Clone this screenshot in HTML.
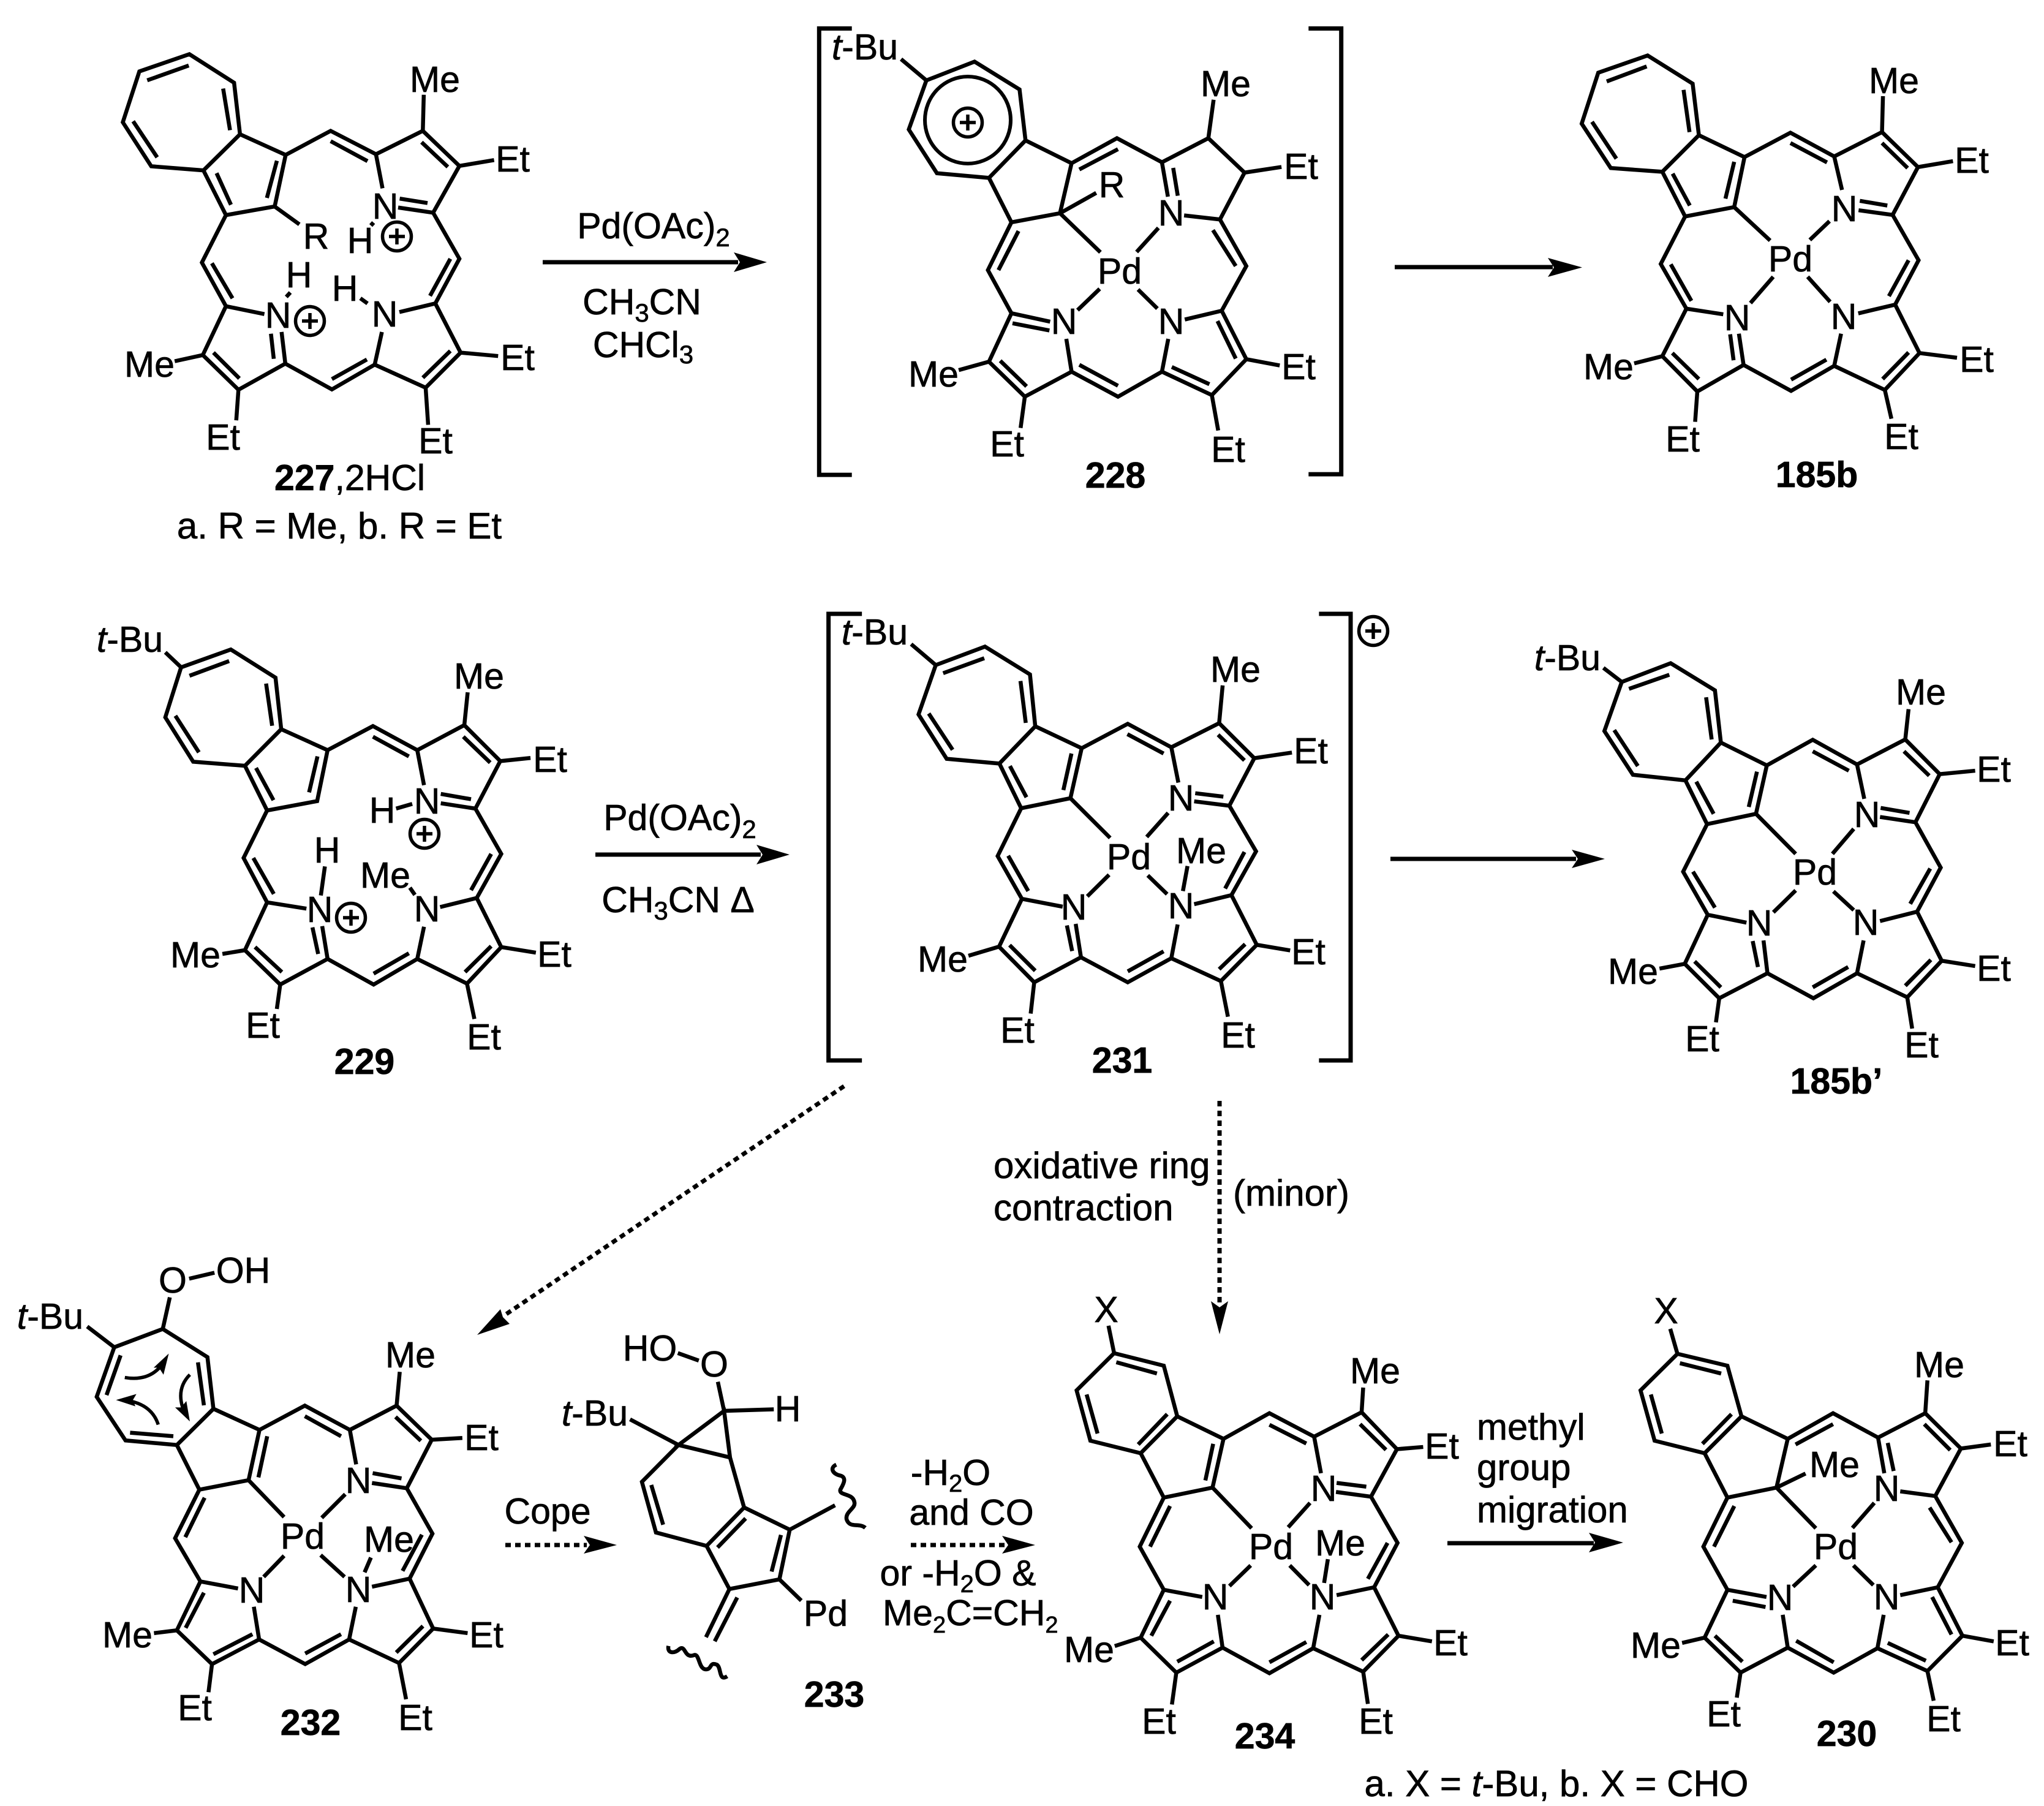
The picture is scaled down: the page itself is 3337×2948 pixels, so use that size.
<!DOCTYPE html>
<html><head><meta charset="utf-8"><style>
html,body{margin:0;padding:0;background:#fff}
svg{display:block}
text{font-family:"Liberation Sans",Arial,sans-serif;font-size:59px;text-anchor:middle;fill:#000;stroke:#000;stroke-width:.7}
.b{font-weight:bold}
.s{text-anchor:start}
.l{font-size:60px}
path,line{fill:none;stroke:#000;stroke-width:6.5;stroke-miterlimit:4;vector-effect:non-scaling-stroke}
.a{stroke-width:7}
.d{stroke-width:7;stroke-dasharray:9 7}
polygon{fill:#000;stroke:none}
</style></head><body>
<svg xmlns="http://www.w3.org/2000/svg" width="3337" height="2948" viewBox="0 0 3337 2948">
<defs><g id="p"><circle r="23.5" fill="none" stroke="#000" stroke-width="5.5"/><line x1="-13" x2="13" y1="0" y2="0" style="stroke-width:5.5"/><line y1="-13" y2="13" x1="0" x2="0" style="stroke-width:5.5"/></g></defs>
<rect width="3337" height="2948" fill="#fff"/>

<!-- 227 -->
<g transform="translate(100,20) scale(.5102,.5612)"><path d="M410 122 250 172 197 320 288 448 455 460 572 355 553 205Z M408 155 275 198 M230 317 307 422 M518 222 540 343 M572 355 718 415 683 565 527 590 455 460 M690 432 658 540 M497 468 543 560 M718 415 862 345 1007 413 M862 375 980 433 M1007 413 1157 345 1274 447 1190 583 1078 568 M1007 413 1028 512 M1153 378 1237 450 M1172 555 1083 542 M1157 345 1160 240 M1274 447 1385 430 M990 612 1000 620 M1190 583 1274 717 1197 847 M1245 717 1180 825 M1197 847 1278 990 1166 1092 1003 1025 1026 930 M1197 847 1082 872 M1245 985 1157 1063 M1278 990 1398 1000 M1166 1092 1174 1200 M957 832 980 847 M1003 1025 866 1097 717 1022 705 930 M978 1010 866 1067 M680 1008 671 935 M717 1022 567 1098 453 997 527 855 650 878 M570 1065 487 990 M453 997 363 1015 M567 1098 560 1187 M720 828 733 815 M527 855 450 728 527 590 M548 832 482 730 M683 565 762 617"/></g>
<text x="710" y="150">Me</text><text x="837" y="280">Et</text><text x="629" y="357">N</text><text x="588" y="413">H</text><use href="#p" x="648" y="386"/><text x="516" y="406">R</text><text x="488" y="469">H</text><text x="563" y="491">H</text><text x="454" y="535">N</text><use href="#p" x="506" y="524"/><text x="628" y="533">N</text><text x="244" y="615">Me</text><text x="845" y="604">Et</text><text x="364" y="734">Et</text><text x="711" y="740">Et</text>
<text x="571" y="800"><tspan class="b">227</tspan>,2HCl</text><text class="l" x="554" y="879">a. R = Me, b. R = Et</text>

<!-- arrow 1 -->
<path class="a" d="M886 428H1205"/><polygon points="1252,428 1198,412 1208,428 1198,444"/>
<text x="1067" y="389">Pd(OAc)<tspan font-size="42" dy="13">2</tspan></text>
<text x="1048" y="513">CH<tspan font-size="42" dy="12">3</tspan><tspan dy="-12">CN</tspan></text>
<text x="1050" y="583">CHCl<tspan font-size="42" dy="10">3</tspan></text>

<!-- 228 -->
<g transform="translate(1300,20) scale(.574,.5102)"><path class="a" d="M158 52H65V1480H158 M1457 52H1550V1478H1457"/><path d="M298 150 370 218 M370 218 507 158 635 247 652 410 548 530 400 515 320 375Z M652 410 783 483 750 643 612 672 548 530 M783 483 912 403 1040 480 M805 503 915 438 M1040 480 1172 403 1275 513 1205 663 1103 650 M1040 480 1057 590 M1072 498 1085 587 M1172 403 1187 280 M1275 513 1380 495 M750 643 853 578 M750 643 865 768 M1030 690 968 767 M612 672 545 825 612 963 722 990 M632 700 575 825 M615 995 720 1018 M863 885 800 953 M972 887 1027 948 M612 963 548 1118 650 1230 783 1150 768 1045 M580 1115 655 1197 M548 1118 462 1145 M650 1230 638 1330 M783 1150 915 1230 1040 1150 1058 1045 M805 1128 915 1195 M1040 1150 1182 1225 1280 1110 1210 955 1105 983 M1068 1135 1175 1190 M1250 1108 1198 988 M1280 1110 1375 1130 M1182 1225 1200 1338 M1205 663 1280 812 1210 955 M1185 697 1250 812"/></g>
<ellipse cx="1580" cy="196" rx="70" ry="71" fill="none" stroke="#000" stroke-width="6"/><use href="#p" x="1580" y="200"/>
<text x="1412" y="97"><tspan font-style="italic">t</tspan>-Bu</text><text x="2001" y="157">Me</text><text x="2124" y="292">Et</text><text x="1815" y="322">R</text><text x="1912" y="368">N</text><text x="1828" y="463">Pd</text><text x="1737" y="545">N</text><text x="1912" y="545">N</text><text x="1524" y="631">Me</text><text x="2120" y="619">Et</text><text x="1644" y="745">Et</text><text x="2005" y="754">Et</text><text class="b" x="1821" y="796">228</text>

<!-- arrow 2 -->
<path class="a" d="M2277 436H2535"/><polygon points="2583,436.5 2527,421 2537,436.5 2527,452"/>

<!-- 185b -->
<g transform="translate(2520,60) scale(.5102)"><path d="M333 60 175 115 122 278 215 420 380 432 497 315 477 150Z M330 95 202 143 M155 272 233 390 M448 170 467 305 M497 315 643 385 610 545 453 575 380 432 M610 400 582 518 M413 438 468 540 M643 385 790 307 930 383 M790 340 907 402 M930 383 1083 305 1198 417 1117 570 1008 555 M1083 340 1165 420 M1100 540 1012 525 M930 383 955 490 M1083 305 1086 190 M1198 417 1310 398 M610 545 725 652 M915 590 852 650 M1117 570 1200 715 1125 857 1007 885 M1168 715 1105 830 M1125 857 1203 1012 1092 1130 930 1053 952 950 M1168 1010 1085 1095 M1203 1012 1323 1027 M1092 1130 1113 1222 M930 1053 792 1133 640 1050 625 950 M905 1033 792 1097 M608 1035 597 952 M640 1050 492 1135 380 1022 457 870 575 888 M497 1095 412 1012 M453 575 375 727 457 870 M473 845 407 728 M380 1022 290 1045 M492 1135 485 1232 M735 768 662 852 M845 768 917 848"/></g>
<text x="3092" y="152">Me</text><text x="3219" y="282">Et</text><text x="3011" y="361">N</text><text x="2923" y="443">Pd</text><text x="2836" y="539">N</text><text x="3010" y="537">N</text><text x="3227" y="607">Et</text><text x="2626" y="619">Me</text><text x="2747" y="737">Et</text><text x="3104" y="733">Et</text><text class="b" x="2966" y="795">185b</text>

<!-- 229 -->
<g transform="translate(130,1000) scale(.5485,.5102)"><path d="M255 127 302 175 M302 175 450 118 583 208 600 373 492 490 338 477 255 335Z M445 155 327 202 M285 330 355 447 M555 227 573 362 M600 373 738 440 707 603 558 633 492 490 M708 460 683 575 M525 497 577 600 M738 440 873 363 1005 440 M873 397 980 460 M1005 440 1145 360 1252 475 1178 627 1075 610 M1142 397 1222 480 M1165 597 1075 580 M1005 440 1025 552 M1145 360 1155 255 M1252 475 1342 465 M942 627 990 612 M1178 627 1255 772 1182 913 1073 942 M1225 772 1165 888 M1182 913 1255 1070 1153 1187 1005 1108 1025 1005 M1225 1067 1147 1150 M1255 1070 1358 1088 M1153 1187 1175 1300 M983 880 998 903 M1005 1108 875 1190 738 1108 722 1003 M980 1090 875 1155 M710 1092 693 1007 M738 1108 597 1190 492 1080 558 927 675 947 M602 1150 522 1070 M492 1080 425 1092 M597 1190 587 1268 M558 633 488 785 558 927 M578 900 517 785 M718 905 730 812"/></g>
<text x="212" y="1064"><tspan font-style="italic">t</tspan>-Bu</text><text x="782" y="1124">Me</text><text x="898" y="1260">Et</text><text x="624" y="1343">H</text><text x="697" y="1328">N</text><use href="#p" x="693" y="1361"/><text x="534" y="1408">H</text><text x="629" y="1449">Me</text><text x="522" y="1505">N</text><use href="#p" x="573" y="1498"/><text x="697" y="1504">N</text><text x="319" y="1579">Me</text><text x="905" y="1578">Et</text><text x="429" y="1694">Et</text><text x="790" y="1713">Et</text><text class="b" x="595" y="1753">229</text>

<!-- arrow 3 -->
<path class="a" d="M972 1395H1242"/><polygon points="1289,1395 1235,1379 1245,1395 1235,1411"/>
<text x="1110" y="1355">Pd(OAc)<tspan font-size="42" dy="13">2</tspan></text>
<text x="1107" y="1489">CH<tspan font-size="42" dy="12">3</tspan><tspan dy="-12">CN Δ</tspan></text>

<!-- 231 -->
<g transform="translate(1340,980) scale(.574,.5102)"><path class="a" d="M117 43H22V1472H117 M1417 43H1507V1472H1417"/><path d="M257 140 327 207 M327 207 467 148 595 237 610 403 508 522 358 507 278 365Z M465 185 348 233 M307 362 375 478 M568 258 583 392 M610 403 742 473 710 633 570 665 508 522 M713 490 690 607 M538 530 585 630 M742 473 873 395 997 470 M872 428 975 490 M997 470 1133 393 1233 505 1162 657 1062 643 M1130 430 1205 512 M1145 628 1065 617 M997 470 1017 583 M1133 393 1143 272 M1233 505 1340 487 M710 633 823 760 M988 680 927 757 M1162 657 1238 803 1168 943 1062 972 M1205 805 1150 922 M820 878 758 947 M930 880 985 940 M1043 850 1030 930 M570 665 503 818 572 955 688 980 M590 930 533 817 M1168 943 1240 1102 1138 1218 997 1145 1015 1037 M1207 1100 1133 1180 M1240 1102 1335 1120 M1138 1218 1158 1332 M997 1145 873 1222 740 1142 725 1035 M975 1123 873 1187 M715 1122 700 1040 M740 1142 607 1222 507 1108 572 955 M610 1185 537 1103 M507 1108 420 1137 M607 1222 597 1322"/></g>
<use href="#p" x="2242" y="1030"/>
<text x="1428" y="1052"><tspan font-style="italic">t</tspan>-Bu</text><text x="2017" y="1113">Me</text><text x="2140" y="1246">Et</text><text x="1928" y="1323">N</text><text x="1843" y="1419">Pd</text><text x="1961" y="1409">Me</text><text x="1753" y="1501">N</text><text x="1928" y="1499">N</text><text x="1539" y="1586">Me</text><text x="2136" y="1574">Et</text><text x="1661" y="1702">Et</text><text x="2021" y="1710">Et</text><text class="b" x="1832" y="1751">231</text>

<!-- arrow 4 -->
<path class="a" d="M2270 1402H2573"/><polygon points="2620,1402 2566,1387 2576,1402 2566,1417"/>

<!-- 185b' -->
<g transform="translate(2480,1030) scale(.5357,.5102)"><path d="M257 118 313 163 M313 163 462 103 597 190 615 357 507 478 347 460 260 320Z M458 140 335 185 M290 317 362 432 M570 212 587 347 M615 357 755 430 722 585 573 618 507 478 M725 450 700 563 M540 482 593 585 M755 430 895 348 1030 427 M895 385 1005 447 M1030 427 1177 347 1282 458 1208 612 1100 595 M1173 385 1250 463 M1190 582 1102 566 M1030 427 1052 537 M1177 347 1187 250 M1282 458 1390 447 M722 585 843 713 M1020 633 955 713 M1208 612 1285 757 1213 898 1100 928 M1253 760 1192 873 M843 830 775 900 M958 833 1020 893 M573 618 500 770 575 908 693 933 M597 885 530 770 M1213 898 1288 1055 1183 1172 1030 1095 1050 990 M1255 1052 1177 1135 M1288 1055 1390 1072 M1183 1172 1198 1272 M1030 1095 897 1175 757 1095 745 990 M1003 1075 895 1140 M728 1075 712 992 M757 1095 610 1175 505 1065 575 908 M615 1140 535 1057 M505 1065 428 1080 M610 1175 600 1252"/></g>
<text x="2559" y="1094"><tspan font-style="italic">t</tspan>-Bu</text><text x="3136" y="1150">Me</text><text x="3255" y="1276">Et</text><text x="3048" y="1350">N</text><text x="2963" y="1444">Pd</text><text x="2872" y="1527">N</text><text x="3046" y="1526">N</text><text x="2666" y="1606">Me</text><text x="3255" y="1601">Et</text><text x="2779" y="1716">Et</text><text x="3137" y="1726">Et</text><text class="b" x="2998" y="1785">185b’</text>

<!-- dashed arrows -->
<path class="d" d="M1378 1773 825 2146"/><polygon points="779,2179 817,2137 821,2150 832,2161"/>
<path class="d" d="M1991 1797V2130"/><polygon points="1991,2178 1977,2124 1991,2134 2005,2124"/>
<text class="s l" x="1622" y="1923">oxidative ring</text><text class="s l" x="1622" y="1992">contraction</text><text class="s l" x="2013" y="1968">(minor)</text>

<!-- 232 -->
<g transform="translate(0,2000) scale(.574)"><path d="M248 288 325 347 M463 295 483 205 M538 152 610 135 M325 347 463 295 590 375 607 522 503 625 357 612 275 488Z M343 370 303 483 M563 390 580 512 M370 590 493 600 M607 522 738 582 707 725 567 752 503 625 M760 600 735 717 M738 582 867 513 995 582 M867 543 970 600 M995 582 1128 513 1228 610 1157 748 1058 733 M1125 545 1197 613 M1142 720 1060 705 M995 582 1013 680 M1128 513 1137 417 M1228 610 1315 605 M707 725 808 830 M982 765 915 832 M1157 748 1230 877 1165 1005 1058 1028 M1200 880 1145 983 M567 752 498 890 570 1013 677 1033 M582 775 527 887 M808 940 750 1000 M912 938 980 1000 M1055 945 1037 987 M1165 1005 1232 1147 1135 1245 993 1178 1012 1085 M1203 1140 1127 1215 M1232 1147 1330 1160 M1135 1245 1155 1348 M993 1178 868 1248 737 1178 722 1085 M970 1163 868 1218 M737 1178 603 1248 503 1152 570 1013 M718 1163 607 1220 M528 1145 580 1045 M503 1152 438 1160 M603 1248 593 1328"/>
<path style="stroke-width:5.5" d="M355 433Q425 445 462 395 M540 425Q495 470 528 540 M450 567Q430 505 350 497"/>
<polygon points="480,365 437,405 452,405 465,425"/><polygon points="540,558 498,518 515,518 530,500"/><polygon points="330,497 388,480 378,497 385,515"/></g>
<text x="82" y="2169"><tspan font-style="italic">t</tspan>-Bu</text><text x="282" y="2110">O</text><text x="397" y="2094">OH</text><text x="670" y="2232">Me</text><text x="786" y="2367">Et</text><text x="585" y="2437">N</text><text x="494" y="2528">Pd</text><text x="635" y="2533">Me</text><text x="411" y="2616">N</text><text x="585" y="2615">N</text><text x="208" y="2689">Me</text><text x="794" y="2689">Et</text><text x="318" y="2808">Et</text><text x="678" y="2824">Et</text><text class="b" x="507" y="2832">232</text>

<!-- Cope -->
<text x="894" y="2487">Cope</text>
<path class="d" d="M825 2522H958"/><polygon points="1007,2522 953,2507 963,2522 953,2536"/>

<!-- 233 -->
<g transform="translate(900,2100) scale(.5102)"><path d="M405 213 472 237 M533 305 553 398 M553 398 712 393 M252 425 407 507 M407 507 553 398 572 547Z M407 507 290 625 335 787 497 830 617 707 572 547 M320 635 358 762 M532 835 622 742 M617 707 763 778 730 937 570 968 497 830 M735 795 705 912 M763 778 908 700 M730 937 800 1005 M570 968 495 1122 M595 995 523 1135 M912 570C890 580 900 600 925 605C950 612 930 640 925 650C920 670 965 660 970 690C975 710 940 720 945 745C955 775 985 755 1005 772 M375 1150C370 1175 395 1175 410 1160C430 1145 425 1190 455 1180C475 1170 470 1225 495 1225C515 1225 505 1200 530 1210C545 1220 535 1265 563 1247"/></g>
<text x="1061" y="2221">HO</text><text x="1166" y="2247">O</text><text x="971" y="2327"><tspan font-style="italic">t</tspan>-Bu</text><text x="1286" y="2320">H</text><text x="1348" y="2654">Pd</text><text class="b" x="1362" y="2786">233</text>

<!-- -H2O arrow -->
<text x="1552" y="2424">-H<tspan font-size="40" dy="11">2</tspan><tspan dy="-11">O</tspan></text>
<text x="1586" y="2489">and CO</text>
<path class="d" d="M1487 2522H1642"/><polygon points="1690,2522 1636,2507 1646,2522 1636,2536"/>
<text x="1564" y="2588">or -H<tspan font-size="40" dy="11">2</tspan><tspan dy="-11">O &amp;</tspan></text>
<text class="s" x="1441" y="2653">Me<tspan font-size="38" dy="12">2</tspan><tspan dy="-12">C=CH</tspan><tspan font-size="38" dy="12">2</tspan></text>

<!-- 234 -->
<g transform="translate(1700,2090) scale(.5102)"><path d="M215 145 233 233 M233 233 392 273 435 435 318 553 157 513 113 352Z M240 262 370 298 M145 365 180 490 M403 428 310 525 M435 435 583 507 548 663 392 695 318 553 M550 523 525 640 M583 507 730 425 873 500 M730 462 848 522 M873 500 1025 422 1138 540 1055 692 943 677 M1020 460 1103 542 M1040 660 945 648 M873 500 895 617 M1025 422 1030 343 M1138 540 1222 533 M548 663 673 793 M860 712 790 790 M1055 692 1140 840 1065 982 945 1007 M1108 840 1045 955 M392 695 315 852 392 990 515 1013 M412 722 348 852 M670 912 602 978 M795 912 857 975 M917 892 905 968 M1065 982 1143 1137 1030 1252 870 1177 890 1070 M1110 1133 1025 1215 M1143 1137 1250 1155 M1030 1252 1045 1355 M870 1177 730 1257 580 1175 565 1070 M848 1157 730 1222 M580 1175 432 1255 318 1143 392 990 M552 1155 435 1220 M352 1137 412 1025 M318 1143 235 1170 M432 1255 418 1357"/></g>
<text x="1806" y="2158">X</text><text x="2245" y="2258">Me</text><text x="2354" y="2381">Et</text><text x="2161" y="2450">N</text><text x="2075" y="2545">Pd</text><text x="2188" y="2539">Me</text><text x="1984" y="2627">N</text><text x="2159" y="2627">N</text><text x="1778" y="2713">Me</text><text x="2368" y="2702">Et</text><text x="1892" y="2830">Et</text><text x="2246" y="2830">Et</text><text class="b" x="2065" y="2854">234</text>

<!-- methyl arrow -->
<text class="s l" x="2411" y="2350">methyl</text><text class="s l" x="2411" y="2416">group</text><text class="s l" x="2411" y="2485">migration</text>
<path class="a" d="M2363 2519H2602"/><polygon points="2650,2518 2594,2502 2604,2518 2594,2534"/>

<!-- 230 -->
<g transform="translate(2537,2090) scale(.5102)"><path d="M372 155 395 235 M395 235 555 273 600 435 482 553 322 513 277 352Z M403 265 535 298 M310 365 345 490 M568 428 475 523 M600 435 748 507 712 663 555 695 482 553 M748 507 893 425 1037 503 M773 525 893 460 M1037 503 1188 425 1302 538 1220 690 1108 675 M1037 503 1057 617 M1068 520 1087 610 M1185 460 1268 543 M1188 425 1195 320 M1302 538 1398 525 M712 663 805 618 M712 663 838 793 M1025 712 955 792 M1220 690 1305 840 1228 982 1108 1007 M1202 727 1272 838 M555 695 478 852 555 990 680 1013 M577 722 512 852 M572 1025 677 1045 M838 912 765 980 M958 912 1022 975 M1228 982 1307 1137 1195 1250 1035 1177 1055 1070 M1210 1013 1272 1133 M1307 1137 1407 1155 M1195 1250 1215 1345 M1035 1177 895 1255 748 1175 732 1070 M1068 1160 1190 1217 M775 1153 895 1222 M748 1175 597 1255 482 1143 555 990 M603 1220 515 1137 M482 1143 410 1160 M597 1255 585 1335"/></g>
<text x="2720" y="2160">X</text><text x="3166" y="2248">Me</text><text x="3282" y="2377">Et</text><text x="2995" y="2411">Me</text><text x="3080" y="2450">N</text><text x="2997" y="2545">Pd</text><text x="2906" y="2628">N</text><text x="3080" y="2627">N</text><text x="2703" y="2706">Me</text><text x="3285" y="2702">Et</text><text x="2814" y="2818">Et</text><text x="3173" y="2826">Et</text><text class="b" x="3015" y="2850">230</text>

<text class="l" x="2541" y="2932">a. X = <tspan font-style="italic">t</tspan>-Bu, b. X = CHO</text>
</svg>
</body></html>
